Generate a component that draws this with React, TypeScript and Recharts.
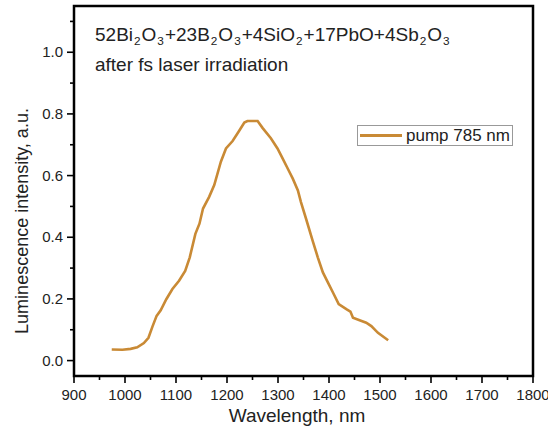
import { LineChart, Line, XAxis, YAxis } from "recharts";

const wavelength = [
  974, 995, 1011, 1024, 1037, 1046, 1054, 1062, 1070, 1081, 1093, 1106, 1118,
  1127, 1138, 1146, 1153, 1165, 1175, 1188, 1198, 1211, 1223, 1234, 1240, 1260,
  1270, 1286, 1299, 1309, 1319, 1329, 1339, 1345, 1355, 1368, 1378, 1388, 1398,
  1408, 1419, 1434, 1442, 1447, 1460, 1473, 1483, 1496, 1516,
];
const intensity = [
  0.036, 0.035, 0.038, 0.043, 0.057, 0.074, 0.111, 0.145, 0.163, 0.199, 0.232,
  0.259, 0.291, 0.335, 0.411, 0.444, 0.493, 0.531, 0.569, 0.645, 0.688, 0.712,
  0.743, 0.772, 0.777, 0.777, 0.754, 0.721, 0.688, 0.656, 0.623, 0.59, 0.552,
  0.514, 0.46, 0.388, 0.335, 0.286, 0.253, 0.22, 0.183, 0.167, 0.159, 0.139,
  0.131, 0.123, 0.112, 0.09, 0.066,
];
const xTicks = [
  900, 950, 1000, 1050, 1100, 1150, 1200, 1250, 1300, 1350, 1400, 1450, 1500,
  1550, 1600, 1650, 1700, 1750, 1800,
];
const yTicks = [0, 0.1, 0.2, 0.3, 0.4, 0.5, 0.6, 0.7, 0.8, 0.9, 1.0, 1.1];
const yLabels = ["0.0", "", "0.2", "", "0.4", "", "0.6", "", "0.8", "", "1.0", ""];

const data = wavelength.map((w, i) => ({ w, v: intensity[i] }));

const COLOR = "#C98A35";
const FONT = '"Liberation Sans", Arial, sans-serif';

const XTick = (props: any) => {
  const { x, y, payload } = props;
  const major = payload.value % 100 === 0;
  return (
    <g>
      <line x1={x} y1={y} x2={x} y2={y + (major ? 7 : 4)} stroke="#000" strokeWidth={1.6} />
      {major && (
        <text x={x} y={y + 24} textAnchor="middle" fontSize={15} fill="#222" fontFamily={FONT}>
          {payload.value}
        </text>
      )}
    </g>
  );
};

const YTick = (props: any) => {
  const { x, y, index } = props;
  const label = yLabels[index];
  const major = label !== "";
  return (
    <g>
      <line x1={x} y1={y} x2={x - (major ? 7 : 4)} y2={y} stroke="#000" strokeWidth={1.6} />
      {major && (
        <text x={x - 11} y={y + 5} textAnchor="end" fontSize={15} fill="#222" fontFamily={FONT}>
          {label}
        </text>
      )}
    </g>
  );
};

const Sub = ({ children }: { children: string }) => (
  <span style={{ fontSize: "0.62em", position: "relative", top: "0.35em", margin: "0 1px" }}>
    {children}
  </span>
);

export default function App() {
  return (
    <div
      style={{
        position: "absolute",
        left: 0,
        top: 0,
        width: 548,
        height: 432,
        background: "#fff",
        fontFamily: FONT,
        color: "#222",
      }}
    >
      <LineChart
        width={548}
        height={432}
        data={data}
        margin={{ top: 6, right: 15, bottom: 0, left: 0 }}
      >
        <XAxis
          dataKey="w"
          type="number"
          domain={[900, 1800]}
          ticks={xTicks}
          interval={0}
          allowDataOverflow
          axisLine={false}
          tickLine={false}
          tickSize={0}
          tickMargin={0}
          height={56}
          tick={<XTick />}
        />
        <YAxis
          type="number"
          domain={[-0.05, 1.15]}
          ticks={yTicks}
          interval={0}
          allowDataOverflow
          axisLine={false}
          tickLine={false}
          tickSize={0}
          tickMargin={0}
          width={74}
          tick={<YTick />}
        />
        <Line
          type="linear"
          dataKey="v"
          stroke={COLOR}
          strokeWidth={2.6}
          dot={false}
          isAnimationActive={false}
        />
      </LineChart>

      {/* plot frame */}
      <svg
        width={548}
        height={432}
        style={{ position: "absolute", left: 0, top: 0, pointerEvents: "none" }}
      >
        <rect x={74} y={6} width={459} height={370} fill="none" stroke="#000" strokeWidth={2.5} />
      </svg>

      <div style={{ position: "absolute", left: 95, top: 21, fontSize: 19, lineHeight: "28px" }}>
        <div>
          52Bi<Sub>2</Sub>O<Sub>3</Sub>+23B<Sub>2</Sub>O<Sub>3</Sub>+4SiO<Sub>2</Sub>+17PbO+4Sb<Sub>2</Sub>O<Sub>3</Sub>
        </div>
        <div>after fs laser irradiation</div>
      </div>

      <div
        style={{
          position: "absolute",
          left: 357,
          top: 125,
          width: 156,
          height: 21,
          border: "1px solid #999",
          boxSizing: "border-box",
          display: "flex",
          alignItems: "center",
          fontSize: 17,
          background: "#fff",
        }}
      >
        <div style={{ width: 42, height: 3, background: COLOR, marginLeft: 2, marginRight: 4 }} />
        <span>pump 785 nm</span>
      </div>

      <div
        style={{
          position: "absolute",
          left: 22,
          top: 221,
          transform: "translate(-50%, -50%) rotate(-90deg)",
          whiteSpace: "nowrap",
          fontSize: 18,
        }}
      >
        Luminescence intensity, a.u.
      </div>

      <div
        style={{
          position: "absolute",
          left: 297,
          top: 416,
          transform: "translate(-50%, -50%)",
          whiteSpace: "nowrap",
          fontSize: 19,
        }}
      >
        Wavelength, nm
      </div>
    </div>
  );
}
